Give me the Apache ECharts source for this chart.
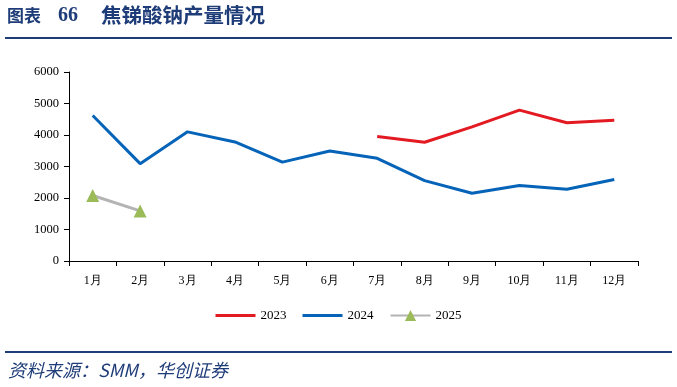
<!DOCTYPE html>
<html><head><meta charset="utf-8">
<script src="https://cdn.jsdelivr.net/npm/echarts@6/dist/echarts.min.js"></script>
<style>html,body{margin:0;padding:0;background:#fff}#c{width:677px;height:387px}</style>
</head><body><div id="c"></div>
<script>
const categories = ['1月','2月','3月','4月','5月','6月','7月','8月','9月','10月','11月','12月'];
const s2023 = [null,null,null,null,null,null,3950,3770,4260,4790,4390,4470];
const s2024 = [4620,3090,4100,3780,3140,3490,3260,2550,2150,2400,2280,2590];
const s2025 = [2080,1590,null,null,null,null,null,null,null,null,null,null];
const yTicks = [0,1000,2000,3000,4000,5000,6000];
const titleLabel = '图表';
const titleNum = '66';
const titleText = '焦锑酸钠产量情况';
const sourceText = '资料来源：SMM，华创证券';

const chart = echarts.init(document.getElementById('c'));
const serif = '"Liberation Serif","Times New Roman",serif';
const navy = '#1E3C78';
const lineIcon = 'path://M0,0L40,0L40,3L0,3Z';
chart.setOption({
  animation:false,
  backgroundColor:'#fff',
  grid:{left:69,right:39,top:72,bottom:126},
  xAxis:{type:'category',data:categories,boundaryGap:true,
    axisLine:{lineStyle:{color:'#000',width:1}},
    axisTick:{show:true,alignWithLabel:false,length:5,lineStyle:{color:'#000'}},
    axisLabel:{color:'#000',fontFamily:serif,fontSize:12,margin:14}},
  yAxis:{type:'value',min:yTicks[0],max:yTicks[yTicks.length-1],interval:1000,
    axisLine:{show:true,lineStyle:{color:'#000',width:1}},
    axisTick:{show:true,inside:false,length:5,lineStyle:{color:'#000'}},
    splitLine:{show:false},
    axisLabel:{color:'#000',fontFamily:serif,fontSize:12.5,margin:10,formatter:v=>String(v)}},
  legend:{top:304,left:'center',itemWidth:40,itemHeight:14,itemGap:16,
    textStyle:{fontFamily:serif,fontSize:13,color:'#000'},
    data:[{name:'2023',icon:lineIcon},{name:'2024',icon:lineIcon},{name:'2025'}]},
  series:[
    {name:'2023',type:'line',data:s2023,symbol:'none',lineStyle:{color:'#E31A22',width:3},itemStyle:{color:'#E31A22'}},
    {name:'2024',type:'line',data:s2024,symbol:'none',lineStyle:{color:'#0563B8',width:3},itemStyle:{color:'#0563B8'}},
    {name:'2025',type:'line',data:s2025,symbol:'triangle',symbolSize:13,lineStyle:{color:'#B4B4B4',width:3},itemStyle:{color:'#9BBB59'}}
  ],
  graphic:[
    {type:'text',x:7,y:7,style:{text:titleLabel,font:'bold 17px "Noto Sans CJK SC", sans-serif',fill:navy}},
    {type:'text',x:58,y:6,style:{text:titleNum,font:'bold 20px "Liberation Serif", serif',fill:navy}},
    {type:'text',x:101,y:5,style:{text:titleText,font:'bold 20.5px "Noto Sans CJK SC", sans-serif',fill:navy}},
    {type:'rect',shape:{x:5,y:37,width:667,height:2},style:{fill:navy}},
    {type:'rect',shape:{x:5,y:351,width:667,height:2},style:{fill:navy}},
    {type:'text',x:8,y:361,style:{text:sourceText,font:'italic 18px "Noto Sans CJK SC", sans-serif',fill:navy}}
  ]
});
</script></body></html>
